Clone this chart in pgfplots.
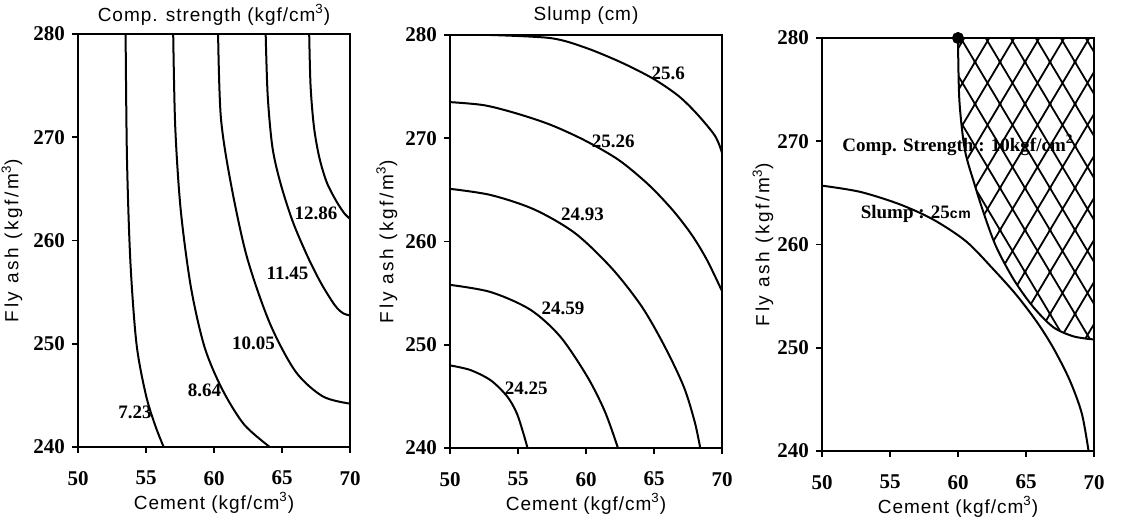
\documentclass[border=0pt]{standalone}
\usepackage{fontspec}
\setmainfont{Liberation Serif}
\newfontfamily\lab{Liberation Sans}[LetterSpace=5]
\newfontfamily\labw{Liberation Sans}[LetterSpace=14]
\usepackage{pgfplots}
\pgfplotsset{compat=1.18}
\usetikzlibrary{patterns}

\pgfdeclarepatternformonly{diamondhatch}{\pgfqpoint{-1pt}{-1pt}}{\pgfqpoint{13.5pt}{22pt}}{\pgfqpoint{12.5pt}{21pt}}{%
  \pgfsetlinewidth{0.9pt}%
  \pgfpathmoveto{\pgfqpoint{-0.5pt}{-0.84pt}}\pgfpathlineto{\pgfqpoint{13pt}{21.84pt}}%
  \pgfpathmoveto{\pgfqpoint{-0.5pt}{21.84pt}}\pgfpathlineto{\pgfqpoint{13pt}{-0.84pt}}%
  \pgfusepath{stroke}}

\tikzset{clab/.style={font=\bfseries\fontsize{9.5}{11}\selectfont}}
\pgfplotsset{
  panel/.style={
    scale only axis, width=136pt, height=206.5pt,
    xmin=50, xmax=70, ymin=240, ymax=280,
    xtick={50,55,...,70}, ytick={240,250,...,280},
    tick align=outside, xtick pos=bottom, ytick pos=left,
    major tick length=3pt,
    axis line style={line width=0.9pt},
    every tick/.style={black, line width=0.8pt},
    tick label style={font=\bfseries\fontsize{10.5}{12}\selectfont},
    xticklabel style={yshift=-5.5pt},
    /pgf/number format/assume math mode=true,
    xlabel={Cement (kgf/cm\textsuperscript{3})},
    ylabel={Fly ash (kgf/m\textsuperscript{3})},
    xlabel style={font=\lab\fontsize{9.5}{11}\selectfont, at={(axis description cs:0.5,-0.135)}, anchor=center},
    ylabel style={font=\labw\fontsize{9.5}{11}\selectfont, anchor=center},
    title style={font=\lab\fontsize{9.5}{11}\selectfont, at={(axis description cs:0.5,1.017)}, anchor=center},
    clip=false,
  },
  crv/.style={black, line width=1pt, smooth, mark=none},
}

\begin{document}
\begin{tikzpicture}
\path[use as bounding box] (0,0) rectangle (563pt,262pt);

% ---- compressive strength
\begin{axis}[panel, at={(39pt,38.5pt)}, anchor=south west,
  ylabel style={at={(axis description cs:-0.243,0.5)}},
  title={Comp. strength (kgf/cm\textsuperscript{3})}]
\addplot[crv] coordinates {(53.5,280) (53.6,268) (53.85,258) (54.3,250) (55.0,245) (55.7,242) (56.3,240)};
\addplot[crv] coordinates {(57.0,280) (57.15,271) (57.55,263) (58.3,255.5) (59.3,249.7) (60.6,245.6) (62.2,242.2) (64.1,240)};
\addplot[crv] coordinates {(60.3,280) (60.5,272) (61.2,265.8) (62.4,258.5) (64.1,252.0) (66.0,247.3) (68.0,244.9) (70,244.2)};
\addplot[crv] coordinates {(63.8,280) (63.95,274) (64.3,269) (64.9,265.5) (65.8,261.8) (66.9,258.4) (67.9,255.8) (68.9,253.7) (69.5,252.95) (70,252.75)};
\addplot[crv] coordinates {(67.0,280) (67.1,275) (67.35,271) (67.75,268) (68.3,265.6) (69.0,263.8) (69.6,262.6) (70,262.1)};
\node[clab] at (axis cs:54.2,243.4) {7.23};
\node[clab] at (axis cs:59.3,245.5) {8.64};
\node[clab] at (axis cs:62.9,250.0) {10.05};
\node[clab] at (axis cs:65.4,256.8) {11.45};
\node[clab] at (axis cs:67.5,262.6) {12.86};
\end{axis}

% ---- slump
\begin{axis}[panel, at={(225pt,38pt)}, anchor=south west,
  ylabel style={at={(axis description cs:-0.232,0.5)}},
  title={Slump (cm)}]
\addplot[crv] coordinates {(53,280) (57.4,279.7) (59.9,278.8) (62.5,277.4) (64.9,275.8) (66.8,274.1) (68.2,272.3) (69.5,270.2) (70,268.6)};
\addplot[crv] coordinates {(50,273.5) (52.5,273.2) (54.9,272.4) (57.4,271.3) (59.9,269.8) (62.4,267.9) (64.6,265.5) (66.4,263.0) (67.8,260.6) (68.9,258.2) (70,255.2)};
\addplot[crv] coordinates {(50,265.1) (53,264.5) (56.2,263.1) (59.2,260.8) (61.9,257.4) (64.1,253.7) (65.8,249.8) (67.2,245.9) (68.0,242.5) (68.4,240)};
\addplot[crv] coordinates {(50,255.8) (53,255.1) (55.9,253.4) (58.1,250.8) (60.1,246.9) (61.4,243.5) (62.35,240)};
\addplot[crv] coordinates {(50,248.0) (51.5,247.55) (53.0,246.55) (54.2,245.0) (54.9,243.4) (55.4,241.4) (55.7,240)};
\node[clab] at (axis cs:66.05,276.3) {25.6};
\node[clab] at (axis cs:62.0,269.7) {25.26};
\node[clab] at (axis cs:59.75,262.6) {24.93};
\node[clab] at (axis cs:58.3,253.5) {24.59};
\node[clab] at (axis cs:55.6,245.8) {24.25};
\end{axis}

% ---- overlay of the two responses
\begin{axis}[panel, at={(411pt,36.5pt)}, anchor=south west,
  ylabel style={at={(axis description cs:-0.217,0.5)}}]
\addplot[draw=none, pattern=diamondhatch] coordinates {(60,280) (60.1,274) (60.5,269.2) (61.2,265.9) (61.9,263.0) (62.8,259.8) (64.1,256.6) (65.5,254.0) (67.0,252.0) (68.5,251.1) (70,250.8) (70,280)};
\addplot[crv] coordinates {(60,280) (60.1,274) (60.5,269.2) (61.2,265.9) (61.9,263.0) (62.8,259.8) (64.1,256.6) (65.5,254.0) (67.0,252.0) (68.5,251.1) (70,250.8)};
\addplot[crv] coordinates {(50,265.7) (52.8,265.1) (55.7,263.9) (58.2,262.4) (60.6,260.3) (62.6,257.6) (64.3,255.1) (65.8,252.5) (67.0,250.0) (68.2,246.9) (69.1,243.65) (69.6,240)};
\addplot[black, only marks, mark=*, mark size=2.8pt] coordinates {(60,280)};
\node[clab] at (axis cs:60.0,269.6) {Comp. Strength : 10kgf/cm\textsuperscript{2}};
\node[clab] at (axis cs:56.9,263.0) {Slump : 25{\lab\fontsize{7}{8}\selectfont cm}};
\end{axis}
\end{tikzpicture}
\end{document}
